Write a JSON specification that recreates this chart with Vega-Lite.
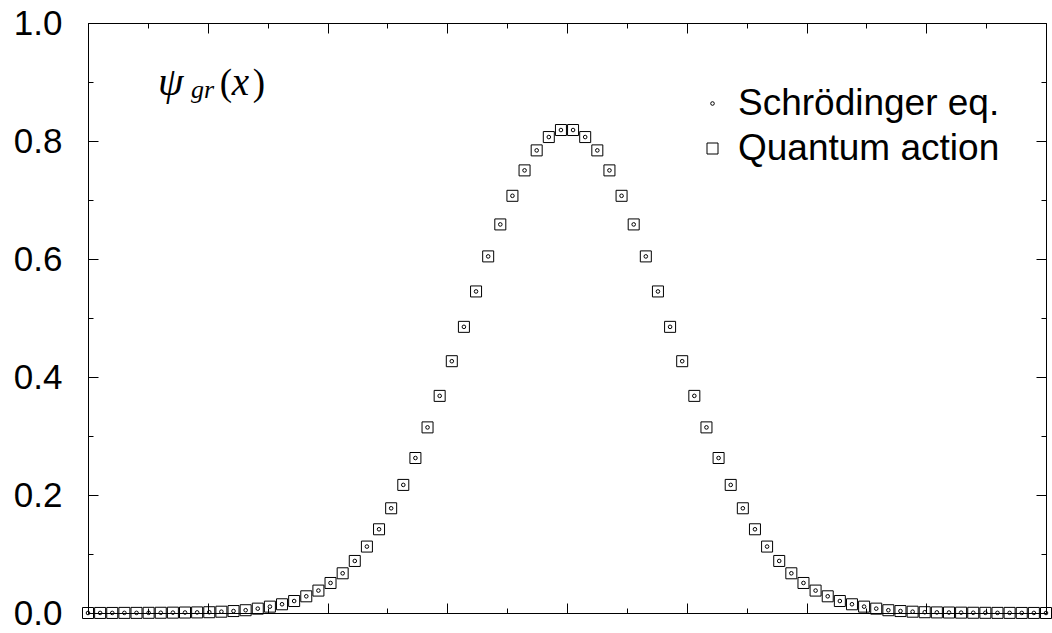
{
"$schema": "https://vega.github.io/schema/vega-lite/v6.json",
"width": 958, "height": 590,
"autosize": {"type": "none"},
"padding": {"left": 88, "top": 23, "right": 6, "bottom": 20},
"background": "white",
"config": {"view": {"stroke": null}, "axis": {"grid": false, "domainColor": "black", "tickColor": "black", "labelColor": "black", "domainWidth": 1, "tickWidth": 1, "title": null}},
"datasets": {"psi": [
{"series":"Schrödinger eq.","x":-4.0,"y":0.0},{"series":"Schrödinger eq.","x":-3.8987,"y":0.0001},{"series":"Schrödinger eq.","x":-3.7975,"y":0.0001},{"series":"Schrödinger eq.","x":-3.6962,"y":0.0002},{"series":"Schrödinger eq.","x":-3.5949,"y":0.0002},{"series":"Schrödinger eq.","x":-3.4937,"y":0.0003},{"series":"Schrödinger eq.","x":-3.3924,"y":0.0004},{"series":"Schrödinger eq.","x":-3.2911,"y":0.0006},{"series":"Schrödinger eq.","x":-3.1899,"y":0.0008},{"series":"Schrödinger eq.","x":-3.0886,"y":0.001},
{"series":"Schrödinger eq.","x":-2.9873,"y":0.0013},{"series":"Schrödinger eq.","x":-2.8861,"y":0.0022},{"series":"Schrödinger eq.","x":-2.7848,"y":0.0033},{"series":"Schrödinger eq.","x":-2.6835,"y":0.0047},{"series":"Schrödinger eq.","x":-2.5823,"y":0.0074},{"series":"Schrödinger eq.","x":-2.481,"y":0.0108},{"series":"Schrödinger eq.","x":-2.3797,"y":0.0148},{"series":"Schrödinger eq.","x":-2.2785,"y":0.0203},{"series":"Schrödinger eq.","x":-2.1772,"y":0.0283},{"series":"Schrödinger eq.","x":-2.0759,"y":0.038},
{"series":"Schrödinger eq.","x":-1.9747,"y":0.0509},{"series":"Schrödinger eq.","x":-1.8734,"y":0.0673},{"series":"Schrödinger eq.","x":-1.7722,"y":0.0882},{"series":"Schrödinger eq.","x":-1.6709,"y":0.1126},{"series":"Schrödinger eq.","x":-1.5696,"y":0.1419},{"series":"Schrödinger eq.","x":-1.4684,"y":0.1775},{"series":"Schrödinger eq.","x":-1.3671,"y":0.2171},{"series":"Schrödinger eq.","x":-1.2658,"y":0.2627},{"series":"Schrödinger eq.","x":-1.1646,"y":0.3146},{"series":"Schrödinger eq.","x":-1.0633,"y":0.368},
{"series":"Schrödinger eq.","x":-0.962,"y":0.4268},{"series":"Schrödinger eq.","x":-0.8608,"y":0.485},{"series":"Schrödinger eq.","x":-0.7595,"y":0.545},{"series":"Schrödinger eq.","x":-0.6582,"y":0.6044},{"series":"Schrödinger eq.","x":-0.557,"y":0.6586},{"series":"Schrödinger eq.","x":-0.4557,"y":0.7071},{"series":"Schrödinger eq.","x":-0.3544,"y":0.7502},{"series":"Schrödinger eq.","x":-0.2532,"y":0.7841},{"series":"Schrödinger eq.","x":-0.1519,"y":0.8067},{"series":"Schrödinger eq.","x":-0.0506,"y":0.8186},
{"series":"Schrödinger eq.","x":0.0506,"y":0.8186},{"series":"Schrödinger eq.","x":0.1519,"y":0.8067},{"series":"Schrödinger eq.","x":0.2532,"y":0.7841},{"series":"Schrödinger eq.","x":0.3544,"y":0.7502},{"series":"Schrödinger eq.","x":0.4557,"y":0.7071},{"series":"Schrödinger eq.","x":0.557,"y":0.6586},{"series":"Schrödinger eq.","x":0.6582,"y":0.6044},{"series":"Schrödinger eq.","x":0.7595,"y":0.545},{"series":"Schrödinger eq.","x":0.8608,"y":0.485},{"series":"Schrödinger eq.","x":0.962,"y":0.4268},
{"series":"Schrödinger eq.","x":1.0633,"y":0.368},{"series":"Schrödinger eq.","x":1.1646,"y":0.3146},{"series":"Schrödinger eq.","x":1.2658,"y":0.2627},{"series":"Schrödinger eq.","x":1.3671,"y":0.2171},{"series":"Schrödinger eq.","x":1.4684,"y":0.1775},{"series":"Schrödinger eq.","x":1.5696,"y":0.1419},{"series":"Schrödinger eq.","x":1.6709,"y":0.1126},{"series":"Schrödinger eq.","x":1.7722,"y":0.0882},{"series":"Schrödinger eq.","x":1.8734,"y":0.0673},{"series":"Schrödinger eq.","x":1.9747,"y":0.0509},
{"series":"Schrödinger eq.","x":2.0759,"y":0.038},{"series":"Schrödinger eq.","x":2.1772,"y":0.0283},{"series":"Schrödinger eq.","x":2.2785,"y":0.0203},{"series":"Schrödinger eq.","x":2.3797,"y":0.0148},{"series":"Schrödinger eq.","x":2.481,"y":0.0108},{"series":"Schrödinger eq.","x":2.5823,"y":0.0074},{"series":"Schrödinger eq.","x":2.6835,"y":0.0047},{"series":"Schrödinger eq.","x":2.7848,"y":0.0033},{"series":"Schrödinger eq.","x":2.8861,"y":0.0022},{"series":"Schrödinger eq.","x":2.9873,"y":0.0013},
{"series":"Schrödinger eq.","x":3.0886,"y":0.001},{"series":"Schrödinger eq.","x":3.1899,"y":0.0008},{"series":"Schrödinger eq.","x":3.2911,"y":0.0006},{"series":"Schrödinger eq.","x":3.3924,"y":0.0004},{"series":"Schrödinger eq.","x":3.4937,"y":0.0003},{"series":"Schrödinger eq.","x":3.5949,"y":0.0002},{"series":"Schrödinger eq.","x":3.6962,"y":0.0002},{"series":"Schrödinger eq.","x":3.7975,"y":0.0001},{"series":"Schrödinger eq.","x":3.8987,"y":0.0001},{"series":"Schrödinger eq.","x":4.0,"y":0.0},
{"series":"Quantum action","x":-4.0,"y":0.0},{"series":"Quantum action","x":-3.8987,"y":0.0001},{"series":"Quantum action","x":-3.7975,"y":0.0001},{"series":"Quantum action","x":-3.6962,"y":0.0002},{"series":"Quantum action","x":-3.5949,"y":0.0002},{"series":"Quantum action","x":-3.4937,"y":0.0003},{"series":"Quantum action","x":-3.3924,"y":0.0004},{"series":"Quantum action","x":-3.2911,"y":0.0006},{"series":"Quantum action","x":-3.1899,"y":0.0008},{"series":"Quantum action","x":-3.0886,"y":0.001},
{"series":"Quantum action","x":-2.9873,"y":0.0013},{"series":"Quantum action","x":-2.8861,"y":0.0022},{"series":"Quantum action","x":-2.7848,"y":0.0033},{"series":"Quantum action","x":-2.6835,"y":0.0047},{"series":"Quantum action","x":-2.5823,"y":0.0074},{"series":"Quantum action","x":-2.481,"y":0.0108},{"series":"Quantum action","x":-2.3797,"y":0.0148},{"series":"Quantum action","x":-2.2785,"y":0.0203},{"series":"Quantum action","x":-2.1772,"y":0.0283},{"series":"Quantum action","x":-2.0759,"y":0.038},
{"series":"Quantum action","x":-1.9747,"y":0.0509},{"series":"Quantum action","x":-1.8734,"y":0.0673},{"series":"Quantum action","x":-1.7722,"y":0.0882},{"series":"Quantum action","x":-1.6709,"y":0.1126},{"series":"Quantum action","x":-1.5696,"y":0.1419},{"series":"Quantum action","x":-1.4684,"y":0.1775},{"series":"Quantum action","x":-1.3671,"y":0.2171},{"series":"Quantum action","x":-1.2658,"y":0.2627},{"series":"Quantum action","x":-1.1646,"y":0.3146},{"series":"Quantum action","x":-1.0633,"y":0.368},
{"series":"Quantum action","x":-0.962,"y":0.4268},{"series":"Quantum action","x":-0.8608,"y":0.485},{"series":"Quantum action","x":-0.7595,"y":0.545},{"series":"Quantum action","x":-0.6582,"y":0.6044},{"series":"Quantum action","x":-0.557,"y":0.6586},{"series":"Quantum action","x":-0.4557,"y":0.7071},{"series":"Quantum action","x":-0.3544,"y":0.7502},{"series":"Quantum action","x":-0.2532,"y":0.7841},{"series":"Quantum action","x":-0.1519,"y":0.8067},{"series":"Quantum action","x":-0.0506,"y":0.8186},
{"series":"Quantum action","x":0.0506,"y":0.8186},{"series":"Quantum action","x":0.1519,"y":0.8067},{"series":"Quantum action","x":0.2532,"y":0.7841},{"series":"Quantum action","x":0.3544,"y":0.7502},{"series":"Quantum action","x":0.4557,"y":0.7071},{"series":"Quantum action","x":0.557,"y":0.6586},{"series":"Quantum action","x":0.6582,"y":0.6044},{"series":"Quantum action","x":0.7595,"y":0.545},{"series":"Quantum action","x":0.8608,"y":0.485},{"series":"Quantum action","x":0.962,"y":0.4268},
{"series":"Quantum action","x":1.0633,"y":0.368},{"series":"Quantum action","x":1.1646,"y":0.3146},{"series":"Quantum action","x":1.2658,"y":0.2627},{"series":"Quantum action","x":1.3671,"y":0.2171},{"series":"Quantum action","x":1.4684,"y":0.1775},{"series":"Quantum action","x":1.5696,"y":0.1419},{"series":"Quantum action","x":1.6709,"y":0.1126},{"series":"Quantum action","x":1.7722,"y":0.0882},{"series":"Quantum action","x":1.8734,"y":0.0673},{"series":"Quantum action","x":1.9747,"y":0.0509},
{"series":"Quantum action","x":2.0759,"y":0.038},{"series":"Quantum action","x":2.1772,"y":0.0283},{"series":"Quantum action","x":2.2785,"y":0.0203},{"series":"Quantum action","x":2.3797,"y":0.0148},{"series":"Quantum action","x":2.481,"y":0.0108},{"series":"Quantum action","x":2.5823,"y":0.0074},{"series":"Quantum action","x":2.6835,"y":0.0047},{"series":"Quantum action","x":2.7848,"y":0.0033},{"series":"Quantum action","x":2.8861,"y":0.0022},{"series":"Quantum action","x":2.9873,"y":0.0013},
{"series":"Quantum action","x":3.0886,"y":0.001},{"series":"Quantum action","x":3.1899,"y":0.0008},{"series":"Quantum action","x":3.2911,"y":0.0006},{"series":"Quantum action","x":3.3924,"y":0.0004},{"series":"Quantum action","x":3.4937,"y":0.0003},{"series":"Quantum action","x":3.5949,"y":0.0002},{"series":"Quantum action","x":3.6962,"y":0.0002},{"series":"Quantum action","x":3.7975,"y":0.0001},{"series":"Quantum action","x":3.8987,"y":0.0001},{"series":"Quantum action","x":4.0,"y":0.0}
]},
"resolve": {"axis": {"x": "independent", "y": "independent"}},
"layer": [
{
"data": {"name": "psi"},
"mark": {"type": "point", "filled": false, "color": "black", "strokeWidth": 1, "opacity": 1},
"encoding": {
"x": {"field": "x", "type": "quantitative", "scale": {"domain": [-4, 4], "nice": false, "zero": false}, "axis": {"orient": "bottom", "values": [-3, -2, -1, 0, 1, 2, 3], "tickSize": -10, "labels": false, "title": null}},
"y": {"field": "y", "type": "quantitative", "scale": {"domain": [0, 1], "nice": false}, "axis": {"orient": "left", "values": [0, 0.2, 0.4, 0.6, 0.8, 1], "format": ".1f", "tickSize": -10, "labelPadding": 36, "labelFont": "Liberation Sans", "labelFontSize": 35, "labelColor": "black", "title": null}},
"shape": {"field": "series", "type": "nominal", "scale": {"domain": ["Schrödinger eq.", "Quantum action"], "range": ["circle", "square"]}, "legend": {"orient": "none", "legendX": 606, "legendY": 62, "title": null, "labelFont": "Liberation Sans", "labelFontSize": 37, "labelColor": "black", "labelLimit": 0, "rowPadding": 7, "labelOffset": 7, "padding": 0, "symbolStrokeColor": "black", "symbolStrokeWidth": 1}},
"size": {"field": "series", "type": "ordinal", "scale": {"domain": ["Schrödinger eq.", "Quantum action"], "range": [13, 121]}, "legend": {"orient": "none", "legendX": 606, "legendY": 62, "title": null, "labelFont": "Liberation Sans", "labelFontSize": 37, "labelColor": "black", "labelLimit": 0, "rowPadding": 7, "labelOffset": 7, "padding": 0, "symbolStrokeColor": "black", "symbolStrokeWidth": 1}}
}
},
{
"data": {"values": [{}]},
"mark": {"type": "text", "text": "ψ", "font": "Liberation Serif", "fontStyle": "italic", "fontSize": 41, "align": "left", "baseline": "alphabetic", "color": "black"},
"encoding": {
"x": {"datum": -3.4155, "type": "quantitative", "scale": {"domain": [-4, 4], "nice": false, "zero": false}, "axis": {"orient": "top", "values": [-3, -2, -1, 0, 1, 2, 3], "tickSize": -10, "labels": false, "title": null}},
"y": {"datum": 0.8779, "type": "quantitative", "scale": {"domain": [0, 1], "nice": false}, "axis": {"orient": "right", "values": [0.2, 0.4, 0.6, 0.8], "tickSize": -10, "labels": false, "title": null}}
}
},
{
"data": {"values": [{}]},
"mark": {"type": "text", "text": "gr", "font": "Liberation Serif", "fontStyle": "italic", "fontSize": 26, "align": "left", "baseline": "alphabetic", "color": "black"},
"encoding": {
"x": {"datum": -3.14, "type": "quantitative", "scale": {"domain": [-4, 4], "nice": false, "zero": false}, "axis": {"orient": "bottom", "values": [-3.5, -2.5, -1.5, -0.5, 0.5, 1.5, 2.5, 3.5], "tickSize": -5, "labels": false, "title": null}},
"y": {"datum": 0.8728, "type": "quantitative", "scale": {"domain": [0, 1], "nice": false}, "axis": {"orient": "left", "values": [0.1, 0.3, 0.5, 0.7, 0.9], "tickSize": -5, "labels": false, "title": null}}
}
},
{
"data": {"values": [{}]},
"mark": {"type": "text", "text": "(", "font": "Liberation Serif", "fontSize": 37, "align": "left", "baseline": "alphabetic", "color": "black"},
"encoding": {
"x": {"datum": -2.90, "type": "quantitative", "scale": {"domain": [-4, 4], "nice": false, "zero": false}, "axis": {"orient": "top", "values": [-3.5, -2.5, -1.5, -0.5, 0.5, 1.5, 2.5, 3.5], "tickSize": -5, "labels": false, "title": null}},
"y": {"datum": 0.8779, "type": "quantitative", "scale": {"domain": [0, 1], "nice": false}, "axis": {"orient": "right", "values": [0.1, 0.3, 0.5, 0.7, 0.9], "tickSize": -5, "labels": false, "title": null}}
}
},
{
"data": {"values": [{}]},
"mark": {"type": "text", "text": "x", "font": "Liberation Serif", "fontStyle": "italic", "fontSize": 39, "align": "left", "baseline": "alphabetic", "color": "black"},
"encoding": {
"x": {"datum": -2.80, "type": "quantitative", "scale": {"domain": [-4, 4], "nice": false, "zero": false}, "axis": null},
"y": {"datum": 0.8779, "type": "quantitative", "scale": {"domain": [0, 1], "nice": false}, "axis": null}
}
},
{
"data": {"values": [{}]},
"mark": {"type": "text", "text": ")", "font": "Liberation Serif", "fontSize": 37, "align": "left", "baseline": "alphabetic", "color": "black"},
"encoding": {
"x": {"datum": -2.625, "type": "quantitative", "scale": {"domain": [-4, 4], "nice": false, "zero": false}, "axis": null},
"y": {"datum": 0.8779, "type": "quantitative", "scale": {"domain": [0, 1], "nice": false}, "axis": null}
}
}
]
}
